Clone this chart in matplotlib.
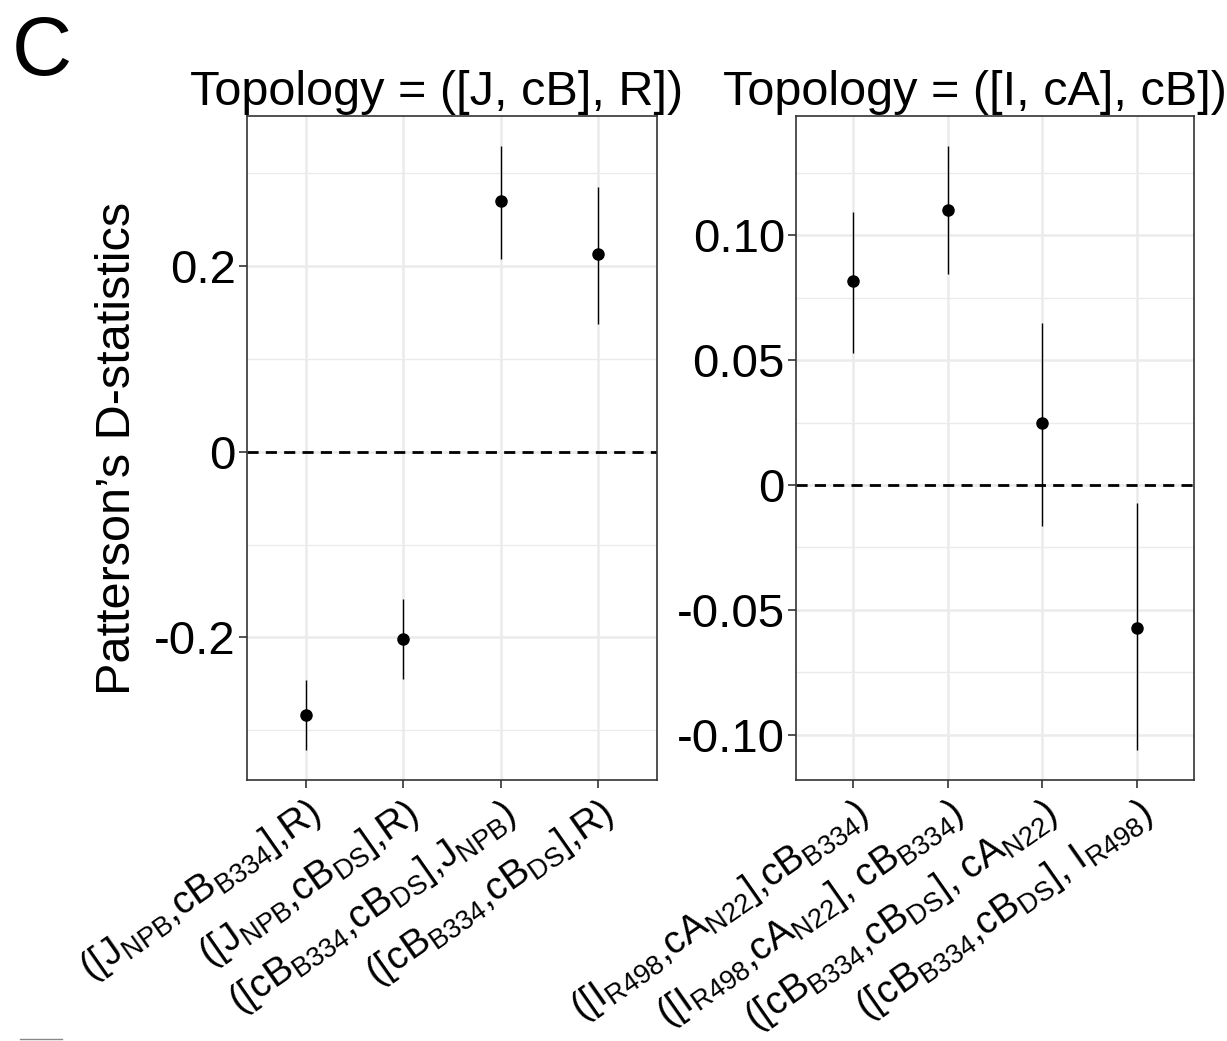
import matplotlib
matplotlib.use("Agg")
from matplotlib import pyplot as plt
from matplotlib.ticker import FixedLocator

plt.rcParams['font.family'] = ['Liberation Sans', 'DejaVu Sans']
plt.rcParams['mathtext.fontset'] = 'custom'
plt.rcParams['mathtext.rm'] = 'Liberation Sans'
plt.rcParams['mathtext.it'] = 'Liberation Sans:italic'
plt.rcParams['mathtext.bf'] = 'Liberation Sans:bold'

# left panel: topology ([J, cB], R)
left_labels = [r'([J$_\mathrm{NPB}$,cB$_\mathrm{B334}$],R)',
               r'([J$_\mathrm{NPB}$,cB$_\mathrm{DS}$],R)',
               r'([cB$_\mathrm{B334}$,cB$_\mathrm{DS}$],J$_\mathrm{NPB}$)',
               r'([cB$_\mathrm{B334}$,cB$_\mathrm{DS}$],R)']
left_d = [-0.284, -0.202, 0.270, 0.213]
left_lo = [-0.321, -0.245, 0.207, 0.137]
left_hi = [-0.246, -0.159, 0.329, 0.285]

# right panel: topology ([I, cA], cB)
right_labels = [r'([I$_\mathrm{R498}$,cA$_\mathrm{N22}$],cB$_\mathrm{B334}$)',
                r'([I$_\mathrm{R498}$,cA$_\mathrm{N22}$], cB$_\mathrm{B334}$)',
                r'([cB$_\mathrm{B334}$,cB$_\mathrm{DS}$], cA$_\mathrm{N22}$)',
                r'([cB$_\mathrm{B334}$,cB$_\mathrm{DS}$], I$_\mathrm{R498}$)']
right_d = [0.0816, 0.1102, 0.0248, -0.0572]
right_lo = [0.0530, 0.0846, -0.0163, -0.1061]
right_hi = [0.1094, 0.1357, 0.0650, -0.0071]

GRID = '#EBEBEB'
DARK = '#333333'


def draw_panel(ax, labels, d, lo, hi, majors, minors, ticktext, title, title_x):
    x = list(range(1, len(labels) + 1))
    ax.set_xlim(0.4, len(labels) + 0.6)
    span = max(hi) - min(lo)
    ax.set_ylim(min(lo) - 0.05 * span, max(hi) + 0.05 * span)

    for m in minors:
        ax.axhline(m, color=GRID, lw=1.0, zorder=0)
    for m in majors:
        ax.axhline(m, color=GRID, lw=1.8, zorder=0)
    for xi in x:
        ax.axvline(xi, color=GRID, lw=1.8, zorder=0)

    ax.axhline(0, color='black', lw=2.0, ls=(0, (4, 2.6)), zorder=2)
    ax.vlines(x, lo, hi, color='black', lw=1.0, zorder=3)
    ax.plot(x, d, 'o', color='black', ms=8, zorder=4)

    ax.yaxis.set_major_locator(FixedLocator(majors))
    ax.set_yticklabels(ticktext)
    ax.set_xticks(x)
    ax.set_xticklabels(labels, rotation=35, ha='right', va='top',
                       rotation_mode='anchor', fontsize=28)
    ax.tick_params(axis='both', length=6, width=1.2, color=DARK)
    ax.tick_params(axis='y', labelsize=34, pad=2)
    ax.tick_params(axis='x', pad=4)
    for s in ax.spines.values():
        s.set_color(DARK)
        s.set_linewidth(1.2)
    ax.set_title(title, fontsize=35, pad=8)
    ax.title.set_x(title_x)


fig = plt.figure(figsize=(12.27, 10.41), dpi=100)
ax1 = fig.add_axes([247 / 1227, 1 - 780 / 1041, 410 / 1227, 664 / 1041])
ax2 = fig.add_axes([796 / 1227, 1 - 780 / 1041, 398 / 1227, 664 / 1041])

draw_panel(ax1, left_labels, left_d, left_lo, left_hi,
           [-0.2, 0, 0.2], [-0.3, -0.1, 0.1, 0.3],
           ['-0.2', '0', '0.2'], 'Topology = ([J, cB], R])', 0.463)
draw_panel(ax2, right_labels, right_d, right_lo, right_hi,
           [-0.10, -0.05, 0, 0.05, 0.10], [-0.075, -0.025, 0.025, 0.075, 0.125],
           ['-0.10', '-0.05', '0', '0.05', '0.10'], 'Topology = ([I, cA], cB])', 0.45)

ax1.set_ylabel('Patterson\u2019s D-statistics', fontsize=35, labelpad=10)

fig.text(12 / 1227, 1 - 75 / 1041, 'C', fontsize=60, ha='left', va='baseline')
fig.add_artist(plt.Line2D([20 / 1227, 62 / 1227], [1 - 1039 / 1041, 1 - 1039 / 1041],
                          color='#888888', lw=1.0))

fig.savefig('out.png', dpi=100)
